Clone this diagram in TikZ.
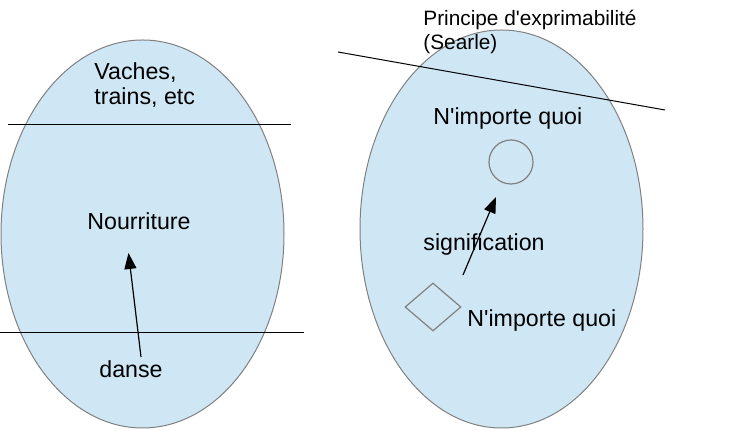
\documentclass[tikz,border=0pt]{standalone}
\usepackage{fontspec}
\setmainfont{Liberation Sans}
\usetikzlibrary{shapes.geometric,arrows.meta}
\definecolor{setblue}{RGB}{207,231,245}
\definecolor{edgegray}{RGB}{128,128,128}
\begin{document}
\begin{tikzpicture}[x=0.5pt,y=-0.5pt,
  every node/.style={font=\fontsize{11.6pt}{12.5pt}\selectfont, inner sep=0pt},
  lbl/.style={anchor=base west},
  setell/.style={ellipse, draw=edgegray, fill=setblue, line width=0.5pt},
  cutline/.style={draw=black, line width=0.5pt},
  arr/.style={draw=black, line width=0.6pt, -{Triangle[length=8pt,width=6pt]}},
  grayshape/.style={draw=edgegray, line width=0.6pt}
]
\useasboundingbox (0,0) rectangle (750,431);
% ellipses
\node[setell, minimum width=283pt*0.5, minimum height=388pt*0.5] (left) at (142.5,234) {};
\node[setell, minimum width=283pt*0.5, minimum height=398pt*0.5] (right) at (501.5,229) {};
% cut lines
\coordinate (l1a) at (8,125); \coordinate (l1b) at (291,125);
\coordinate (l2a) at (0,333); \coordinate (l2b) at (304,333);
\coordinate (r1a) at (338,52); \coordinate (r1b) at (665,110);
\draw[cutline] (l1a) -- (l1b);
\draw[cutline] (l2a) -- (l2b);
\draw[cutline] (r1a) -- (r1b);
% left texts
\node[lbl] (vaches) at (94,80) {Vaches,};
\node[lbl] (trains) at (94,105) {trains, etc};
\node[lbl] (nour) at (87,230) {Nourriture};
\node[lbl] (danse) at (99,378) {danse};
\coordinate (dtail) at (141,357);
\coordinate (dtip) at (128.5,253);
\draw[arr] (dtail) -- (dtip);
% right texts
\node[lbl, font=\fontsize{10.4pt}{12pt}\selectfont] (principe) at (423,26) {Principe d\textquotesingle exprimabilité};
\node[lbl, font=\fontsize{10.4pt}{12pt}\selectfont] (searle) at (423,50) {(Searle)};
\node[lbl] (nq1) at (433,125) {N\textquotesingle importe quoi};
\node[circle, grayshape, minimum size=22pt] (circ) at (511,162) {};
\node[lbl] (sig) at (423,251) {signification};
\node[diamond, grayshape, minimum width=28pt, minimum height=24pt, aspect=1.15] (diam) at (433,307) {};
\node[lbl] (nq2) at (467,327) {N\textquotesingle importe quoi};
\coordinate (stail) at (463,275);
\coordinate (stip) at (496,197);
\draw[arr] (stail) -- (stip);
\end{tikzpicture}
\end{document}
